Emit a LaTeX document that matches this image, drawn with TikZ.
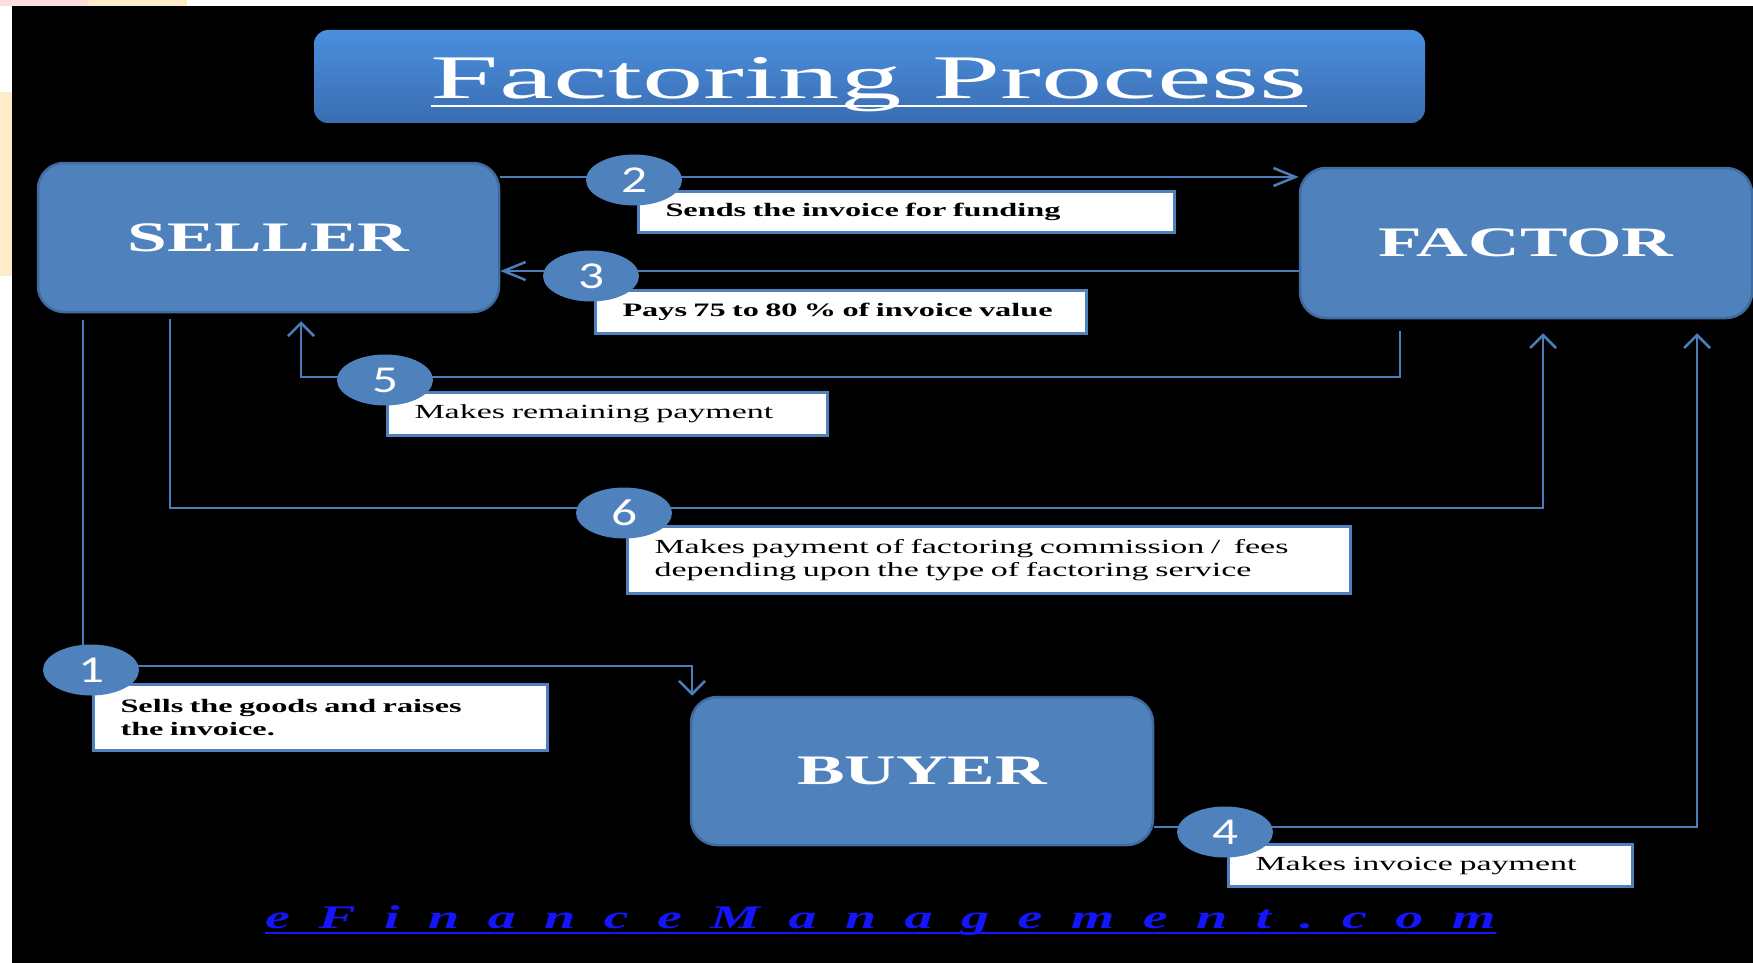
\documentclass[tikz,border=0pt]{standalone}
\usepackage{fontspec}
\setmainfont{Liberation Serif}
\newfontfamily\widefont{Liberation Serif}[FakeStretch=1.7]
\newfontfamily\titlefont{Liberation Serif}[FakeStretch=1.98]
\newfontfamily\webfont{Liberation Serif}[FakeStretch=1.7,LetterSpace=86]
\newfontfamily\digitfont{Carlito}[FakeStretch=1.35]
\usetikzlibrary{arrows.meta,shapes.geometric}

\begin{document}
\begin{tikzpicture}[x=1pt,y=-1pt,
	box/.style={draw=cedge,line width=2.5pt,fill=cbox,rounded corners=26pt,text=white,inner sep=0pt,
		font=\widefont\bfseries\fontsize{42}{48}\selectfont},
	titlebox/.style={rounded corners=14pt,top color=ctop,bottom color=cbot,draw=none},
	lbl/.style={draw=cbox,line width=3pt,fill=white,anchor=north west,inner xsep=27pt,inner ysep=0pt,align=left,
		font=\widefont\bfseries\fontsize{19}{23}\selectfont},
	lblb/.style={lbl,font=\widefont\fontsize{20}{23}\selectfont},
	badge/.style={ellipse,fill=cbox,text=white,minimum width=96pt,minimum height=51pt,inner sep=0pt,
		font=\digitfont\fontsize{38}{38}\selectfont},
	flow/.style={draw=cline,line width=2.5pt},
	vflow/.style={flow,-{Straight Barb[length=13pt,width=26pt]}},
	hflow/.style={flow,-{Straight Barb[length=22pt,width=18pt]}}]
			\definecolor{cbox}{rgb}{0.31,0.51,0.74}
			\definecolor{cedge}{rgb}{0.25,0.42,0.62}
			\definecolor{cline}{rgb}{0.29,0.49,0.73}
			\definecolor{ctop}{rgb}{0.29,0.56,0.87}
			\definecolor{cbot}{rgb}{0.23,0.43,0.70}
			\definecolor{cweb}{rgb}{0.08,0.08,1.0}
			\definecolor{cpink}{rgb}{0.99,0.87,0.87}
			\definecolor{cpeach}{rgb}{1.0,0.93,0.79}
			%
			\useasboundingbox (0,0) rectangle (1753,963);
			\fill[white] (0,0) rectangle (1753,963);
			\fill[cpink] (0,0) rectangle (88,6);
			\fill[cpeach] (88,0) rectangle (187,6);
			\fill[cpeach] (0,92) rectangle (12,276);
			\fill[black] (12,6) rectangle (1753,963);
			%
			\node[titlebox,minimum width=1111pt,minimum height=93pt] (tbox) at (869.5,76.5) {};
			\node[anchor=base,inner sep=0pt,text=white,font=\titlefont\fontsize{62}{70}\selectfont] (ttl) at (869,99) {Factoring Process};
			\draw[white,line width=2.5pt] ([yshift=-7pt]ttl.base west) -- ([yshift=-7pt]ttl.base east);
			%
			\node[box,minimum width=461pt,minimum height=149pt] (seller) at (268.5,237.5) {SELLER};
			\node[box,minimum width=452pt,minimum height=150pt] (factor) at (1526,243) {FACTOR};
			\node[box,minimum width=462pt,minimum height=148pt] (buyer) at (922,771) {BUYER};
			%
			\coordinate (p1) at (91,666);
			\coordinate (p2) at (634,177);
			\coordinate (p3) at (591,271);
			\coordinate (p4) at (1225,827);
			\coordinate (p5) at (385,377);
			\coordinate (p6) at (624,508);
			\coordinate (a1) at (83,666);
			\coordinate (b1) at (692,666);
			\coordinate (a5) at (1400,377);
			\coordinate (b5) at (301,377);
			\coordinate (a6) at (170,508);
			\coordinate (b6) at (1543,508);
			\coordinate (a4) at (1697,827);
			%
			\draw[vflow,shorten <=7pt] (seller.south -| a1) -- (a1) -- (b1) -- (b1 |- buyer.north);
			\draw[hflow] (seller.east |- p2) -- (factor.west |- p2);
			\draw[hflow] (factor.west |- p3) -- (seller.east |- p3);
			\draw[vflow,shorten >=14pt] (buyer.east |- a4) -- (a4) -- (a4 |- factor.south);
			\draw[vflow,shorten <=12pt,shorten >=8pt] (factor.south -| a5) -- (a5) -- (b5) -- (b5 |- seller.south);
			\draw[vflow,shorten <=6pt,shorten >=14pt] (seller.south -| a6) -- (a6) -- (b6) -- (b6 |- factor.south);
			%
			\node[lbl,text width=400pt,minimum height=66pt] (t1) at (92,683) {Sells the goods and raises\\the invoice.};
			\node[lbl,text width=482pt,minimum height=41pt] (t2) at (637,190) {Sends the invoice for funding};
			\node[lbl,text width=437pt,minimum height=43pt] (t3) at (594,289) {\mbox{Pays 75 to 80 \% of invoice value}};
			\node[lblb,text width=350pt,minimum height=42pt] (t4) at (1227,843) {Makes invoice payment};
			\node[lblb,text width=386pt,minimum height=43pt] (t5) at (386,391) {Makes remaining payment};
			\node[lblb,text width=669pt,minimum height=67pt] (t6) at (626,525) {\mbox{Makes payment of factoring commission /\ \ fees}\\\mbox{depending upon the type of factoring service}};
			%
			\node[badge,yshift=-4pt] (n1) at (p1) {1};
			\node[badge,yshift=-3pt] (n2) at (p2) {2};
			\node[badge,yshift=-5pt] (n3) at (p3) {3};
			\node[badge,yshift=-5pt] (n4) at (p4) {4};
			\node[badge,yshift=-3pt] (n5) at (p5) {5};
			\node[badge,yshift=-5pt] (n6) at (p6) {6};
			%
			\node[anchor=base west,inner sep=0pt,text=cweb,font=\webfont\bfseries\itshape\fontsize{33}{33}\selectfont] (web) at (265,928) {eFinanceManagement.com};
			\draw[cweb,line width=2.5pt] ([yshift=-5pt]web.base west) -- ([yshift=-5pt]web.base east);
			%
		\end{tikzpicture}
\end{document}
